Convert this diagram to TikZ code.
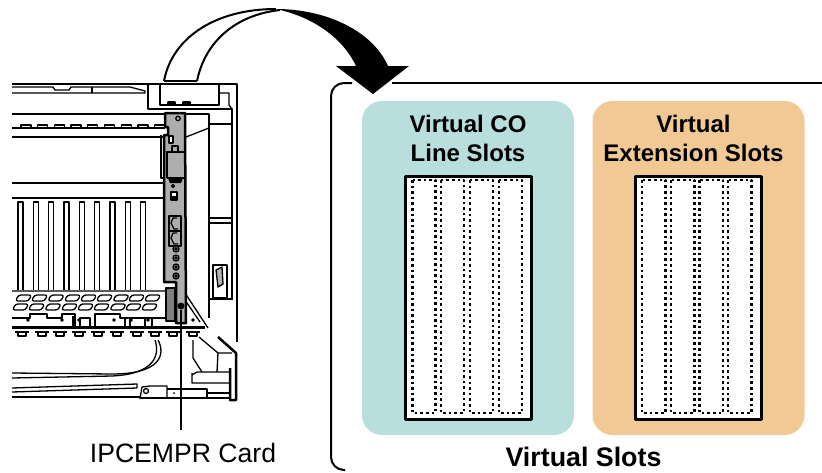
\documentclass[tikz,border=0pt]{standalone}
\usepackage{fontspec}
\setmainfont{Liberation Sans}
\definecolor{coline}{HTML}{B8DEDE}
\definecolor{extslot}{HTML}{F0C995}
\definecolor{cardgrey}{HTML}{ADADAD}
\begin{document}
\begin{tikzpicture}[x=1pt,y=-1pt,line join=round,
                    hw/.style={line width=1.3pt},
                    hwthick/.style={line width=2.5pt},
                    panel/.style={rounded corners=20pt,minimum width=212pt,minimum height=334pt,inner sep=0pt},
                    frame/.style={draw,line width=3pt,fill=white,minimum width=126pt,minimum height=243pt,inner sep=0pt},
                    slotcol/.style={line width=2.6pt,dash pattern=on 2.6pt off 3pt},
                    title/.style={font=\bfseries\fontsize{24}{29}\selectfont,align=center}]
    \useasboundingbox (0,0) rectangle (822,472);
    % outer box
    \draw[line width=2pt] (822,83) -- (392,83);
    \draw[line width=2pt,rounded corners=13pt] (352,83) -- (331,83) -- (331,470) -- (345,470);
    \node[panel,fill=coline] (co) at (468,268) {};
    \node[panel,fill=extslot] (ext) at (698.5,268) {};
    \node[frame] (coframe) at (468,297.5) {};
    \node[frame] (extframe) at (698.5,297.5) {};
    \foreach \x in {412.5,441,470,499} \draw[slotcol] (\x,180) rectangle +(23,233);
    \foreach \x in {642,671,699.5,728} \draw[slotcol] (\x,180) rectangle +(23.5,233);
    \node[title] (colabel) at (468,138) {Virtual CO\\Line Slots};
    \node[title] (extlabel) at (693.5,138) {Virtual\\Extension Slots};
    \node[title,font=\bfseries\fontsize{26.8}{32}\selectfont] (slotslabel) at (583.5,457) {Virtual Slots};
    % cabinet
    \draw[hwthick] (12,84) -- (237,84) -- (237,342);
    \draw[hw] (12,87) -- (53,87) -- (55,90) -- (69,90) -- (71,87) -- (130,87) -- (145,91) -- (145,93) -- (12,93);
    \draw[hw] (92,87) -- (92,93);
    \draw[hw] (148,85) -- (148,109) -- (232,109) -- (232,300);
    \draw[hw] (160,85) -- (160,105) -- (219,105) -- (219,85);
    \draw[hw] (220,93) -- (229,93) -- (229,105) -- (232,109);
    \foreach \x in {168,183} \draw[hwthick,fill=white] (\x,102.5) rectangle +(7,2.5);
    \draw[hw] (12,114) -- (209,114) -- (209,318);
    \draw[hw] (209,124) -- (232,124);
    \draw[hw] (209,218) -- (232,218) (209,223) -- (232,223) (209,299) -- (232,299);
    \draw[hw] (186,137) -- (209,128);
    \draw[hwthick] (12,137) -- (112,137);
    \draw[hw] (112,137) -- (165,137) (12,183) -- (165,183) (12,198) -- (165,198);
    \draw[hw] (161,135) -- (161,178) -- (165,178);
    \foreach \i in {0,...,9} \draw[hw] (21+16.7*\i,128) -- (21+16.7*\i,125) -- (31+16.7*\i,125) -- (31+16.7*\i,128);
    \draw[hw] (12,128) -- (165,128);
    \foreach \x in {18,33.3,48.7,64,79.3,94.7,110,125.3,140.7} \draw[hw] (\x,290) -- (\x,202) -- (\x+5,202) -- (\x+5,290);
    % tray
    \draw[hw] (12,291) -- (165,291) (185,293) -- (208,328) (185,300) -- (200,322);
    \foreach \x in {25,41,57.5,74,90,106,122.5,138,154} {
      \draw[hw,xslant=.5,rounded corners=2.5pt] (\x+141,295) rectangle +(13,6);
      \draw[hw,xslant=.5,rounded corners=2.5pt] (\x+142.5,304) rectangle +(13,6);
    }
    \draw[hw] (12,318) -- (30,318) -- (30,314) -- (47,314) -- (47,318) -- (62,318) -- (62,314) -- (75,314) -- (75,327) (80,327) -- (80,318) -- (90,318) -- (90,327) (95,327) -- (95,314) -- (120,314) -- (120,318) -- (165,318);
    \draw[hw] (73,327) -- (73,316) (125,327) -- (125,318) (130,327) -- (130,318) (145,327) -- (145,318) (152,327) -- (152,318);
    \foreach \x in {28,62,79,114,131,148,193} \draw[hw] (\x,320) circle (1.2);
    \draw[hwthick] (12,327.5) -- (205,327.5);
    \foreach \x in {22,42,60,79,98,117,137,155,173,193} \draw[hwthick] (\x-7,332) -- (\x+7,332) (\x-4,332) -- (\x-4,336) -- (\x+4,336) -- (\x+4,332);
    \draw[hw] (158,340) .. controls (166,355) and (160,374) .. (112,374) -- (12,373);
    \draw[hw] (155,340) .. controls (160,355) and (155,374) .. (112,376) -- (12,378);
    \draw[hw] (193,340) -- (193,358) -- (202,372) (199,337) -- (218,353) -- (232,353);
    \draw[hw] (218,353) -- (217,372) (197,372) -- (230,372) (192,373) -- (192,383) -- (230,383) (197,372) -- (192,375);
    \draw[hwthick] (218,337) -- (236,353) -- (236,400) -- (230,400) -- (230,368);
    \draw[hw] (12,388) -- (137,384) -- (137,388) -- (12,392);
    \draw[hwthick] (12,397) -- (140,397);
    \draw[hw] (140,399) -- (142,387) -- (150,386) -- (167,386) -- (167,398);
    \draw[hw] (167,389) -- (207,389) -- (207,398) (207,393) -- (230,393);
    \draw[hwthick] (140,398) -- (207,398) -- (230,398);
    \draw[hw] (146,391) circle (2.5);
    \fill (174,393) circle (1);
    % card
    \draw[hwthick,fill=cardgrey] (165,113) -- (185,113) -- (186,323) -- (176,323) -- (176,282) -- (164,282) -- (164,135) -- (168,135) -- (168,127) -- (165,127) -- cycle;
    \draw[hw] (178,118.5) circle (2.2);
    \draw[hw] (166,152) -- (184,152) (167,178) -- (184,178);
    \draw[line width=1.6pt] (167,178) -- (167,152);
    \fill (168,178) -- (183,178) -- (181,183) -- (170,183) -- cycle;
    \draw[hw,fill=white] (169,136) rectangle +(4,7);
    \draw[hwthick] (172,146) rectangle +(6,6);
    \draw[hw] (173,186) circle (1.5);
    \draw[hw,fill=white] (171,192) rectangle +(6,8);
    \fill (171,196) rectangle (177,200);
    \foreach \y in {216,231} {
      \draw[hwthick] (169,\y) rectangle +(12,15);
      \draw[hw] (177,\y+2) -- (173,\y+2) -- (171,\y+7) -- (174,\y+13) -- (178,\y+13);
    }
    \foreach \y in {249,258,267,276} {
      \draw[hw] (176,\y) circle (3);
      \draw[hw] (176,\y) circle (1.2);
    }
    \draw[hwthick,fill=gray] (166,288) rectangle (175,321);
    % connector
    \draw[hw,fill=white] (213,265) rectangle (227,298);
    \draw[hw,fill=gray!60] (216,270) -- (222,267) -- (223,284) -- (218,287) -- cycle;
    % arrow
    \fill (276,9) .. controls (325,9) and (372,30) .. (388,66) -- (409,66) -- (373,94) -- (336,66) -- (356,66) .. controls (345,42) and (318,18) .. (276,9) -- cycle;
    \draw[line width=2pt] (164,81) .. controls (172,38) and (215,9) .. (276,9);
    \draw[line width=2pt] (197,81) .. controls (205,42) and (235,15) .. (280,10);
    \draw[line width=2pt] (164,81) -- (197,81);
    % callout
    \node[circle,fill=black,minimum size=7pt,inner sep=0pt] (carddot) at (181,306) {};
    \node[font=\fontsize{26.6}{32}\selectfont] (cardlabel) at (183,453) {IPCEMPR Card};
    \coordinate (leaderend) at (181,430);
    \draw[line width=2pt] (carddot) -- (leaderend);
\end{tikzpicture}
\end{document}
